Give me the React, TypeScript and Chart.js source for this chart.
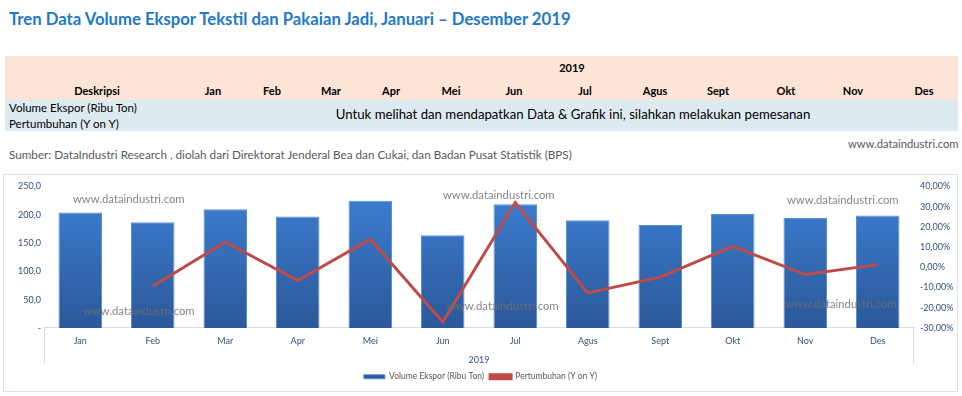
import React, { useEffect, useRef } from 'react';
import { Chart, registerables } from 'chart.js';
Chart.register(...registerables);

const months = ['Jan', 'Feb', 'Mar', 'Apr', 'Mei', 'Jun', 'Jul', 'Agus', 'Sept', 'Okt', 'Nov', 'Des'];
const volume = [204.0, 186.6, 209.5, 196.6, 224.8, 163.7, 218.3, 190.0, 181.9, 201.3, 194.2, 198.4];
const growth = [null, -9.4, 12.5, -6.6, 13.9, -27.1, 32.0, -12.7, -4.9, 10.3, -3.6, 1.3];
const yearLabel = '2019';
const volumeLabel = 'Volume Ekspor (Ribu Ton)';
const growthLabel = 'Pertumbuhan (Y on Y)';
const headerCenters = [213, 272, 331, 391, 451, 514, 585, 655, 718, 786, 853, 924];
const watermark = 'www.dataindustri.com';
const watermarks = [
  [73, 192], [83, 304], [443, 188], [447, 299], [787, 193], [785, 297],
];

const FONT = 'Lato, "Open Sans", sans-serif';
const NAVY = '#34507C';

const axisFrame = {
  id: 'axisFrame',
  afterDraw(chart: any) {
    const { ctx, chartArea } = chart;
    ctx.save();
    ctx.strokeStyle = '#D6DCE5';
    ctx.lineWidth = 1;
    ctx.beginPath();
    ctx.moveTo(Math.round(chartArea.left) + 0.5, chartArea.bottom);
    ctx.lineTo(Math.round(chartArea.left) + 0.5, chartArea.bottom + 36);
    ctx.moveTo(Math.round(chartArea.right) - 0.5, chartArea.bottom);
    ctx.lineTo(Math.round(chartArea.right) - 0.5, chartArea.bottom + 36);
    ctx.stroke();
    ctx.restore();
  },
};

export default function App() {
  const ref = useRef<HTMLCanvasElement>(null);
  useEffect(() => {
    document.body.style.margin = '0';
    const chart = new Chart(ref.current as HTMLCanvasElement, {
      data: {
        labels: months,
        datasets: [
          {
            type: 'bar',
            label: volumeLabel,
            data: volume,
            yAxisID: 'y',
            order: 2,
            backgroundColor: (c: any) => {
              const ca = c.chart.chartArea;
              if (!ca) return '#3874C4';
              const g = c.chart.ctx.createLinearGradient(0, ca.top, 0, ca.bottom);
              g.addColorStop(0, '#3D80D4');
              g.addColorStop(1, '#2B5899');
              return g;
            },
            borderColor: '#5A8FD6',
            borderWidth: 1,
            categoryPercentage: 1,
            barPercentage: 0.6,
          },
          {
            type: 'line',
            label: growthLabel,
            data: growth,
            yAxisID: 'y1',
            order: 1,
            borderColor: '#BE4B48',
            backgroundColor: '#BE4B48',
            borderWidth: 3,
            pointRadius: 0,
            tension: 0,
          },
        ],
      } as any,
      options: {
        animation: false,
        responsive: false,
        layout: { padding: { top: 9, left: 0, right: 0, bottom: 0 } },
        plugins: {
          tooltip: { enabled: false },
          legend: {
            position: 'bottom',
            labels: {
              boxWidth: 21,
              boxHeight: 4,
              font: { family: FONT, size: 8.5 },
              color: '#595959',
              padding: 6,
              sort: (a: any, b: any) => a.datasetIndex - b.datasetIndex,
            },
          },
        },
        scales: {
          x: {
            grid: { display: false, drawTicks: false },
            border: { display: true, color: '#D6DCE5' },
            ticks: { color: NAVY, font: { family: FONT, size: 9 }, padding: 8 },
            title: { display: true, text: yearLabel, color: NAVY, font: { family: FONT, size: 9 }, padding: { top: 0, bottom: 1 } },
          },
          y: {
            position: 'left',
            min: 0,
            max: 250,
            grid: { display: false, drawTicks: false },
            border: { display: false },
            afterFit: (s: any) => { s.width = 40; },
            ticks: {
              stepSize: 50,
              color: NAVY,
              font: { family: FONT, size: 9 },
              callback: (v: any) => (v === 0 ? '-' : Number(v).toFixed(1).replace('.', ',')),
            },
          },
          y1: {
            position: 'right',
            min: -30,
            max: 40,
            grid: { display: false, drawTicks: false },
            border: { display: false },
            afterFit: (s: any) => { s.width = 43; },
            ticks: {
              stepSize: 10,
              color: NAVY,
              font: { family: FONT, size: 9 },
              padding: 6,
              callback: (v: any) => Number(v).toFixed(2).replace('.', ',') + '%',
            },
          },
        },
      } as any,
      plugins: [axisFrame],
    });
    return () => chart.destroy();
  }, []);

  const abs = (s: any) => ({ position: 'absolute', ...s } as React.CSSProperties);

  return (
    <div style={{ position: 'relative', width: 962, height: 396, fontFamily: FONT, background: '#fff', overflow: 'hidden' }}>
      <div style={abs({ left: 9, top: 9, fontSize: 16.7, fontWeight: 700, color: '#1F78C8', whiteSpace: 'nowrap' })}>
        Tren Data Volume Ekspor Tekstil dan Pakaian Jadi, Januari – Desember 2019
      </div>
      <div style={abs({ left: 5, top: 56, width: 953, height: 44, background: '#FCE4D6' })} />
      <div style={abs({ left: 5, top: 100, width: 953, height: 31, background: '#DDEBF1' })} />
      <div style={abs({ left: 542, top: 61, width: 60, textAlign: 'center', fontSize: 11, fontWeight: 700 })}>2019</div>
      <div style={abs({ left: 47, top: 84, width: 100, textAlign: 'center', fontSize: 11, fontWeight: 700 })}>Deskripsi</div>
      {months.map((m, i) => (
        <div key={m} style={abs({ left: headerCenters[i] - 30, top: 84, width: 60, textAlign: 'center', fontSize: 11, fontWeight: 700 })}>{m}</div>
      ))}
      <div style={abs({ left: 9, top: 101, fontSize: 11.5, whiteSpace: 'nowrap' })}>{volumeLabel}</div>
      <div style={abs({ left: 9, top: 117, fontSize: 11.5, whiteSpace: 'nowrap' })}>{growthLabel}</div>
      <div style={abs({ left: 273, top: 106, width: 600, textAlign: 'center', fontSize: 13.2, whiteSpace: 'nowrap' })}>
        Untuk melihat dan mendapatkan Data &amp; Grafik ini, silahkan melakukan pemesanan
      </div>
      <div style={abs({ left: 848, top: 137, fontSize: 11.2, color: '#595959', whiteSpace: 'nowrap' })}>{watermark}</div>
      <div style={abs({ left: 9, top: 147, fontSize: 11.7, color: '#595959', whiteSpace: 'nowrap' })}>
        Sumber: DataIndustri Research , diolah dari Direktorat Jenderal Bea dan Cukai, dan Badan Pusat Statistik (BPS)
      </div>
      <div style={abs({ left: 3, top: 174, width: 953, height: 216, border: '1px solid #D9E2F0' })}>
        <canvas ref={ref} width={953} height={216} style={{ display: 'block' }} />
      </div>
      {watermarks.map(([x, y], i) => (
        <div key={i} style={abs({ left: x, top: y, fontSize: 11.3, color: 'rgba(110,110,110,0.85)', whiteSpace: 'nowrap', pointerEvents: 'none' })}>{watermark}</div>
      ))}
    </div>
  );
}
